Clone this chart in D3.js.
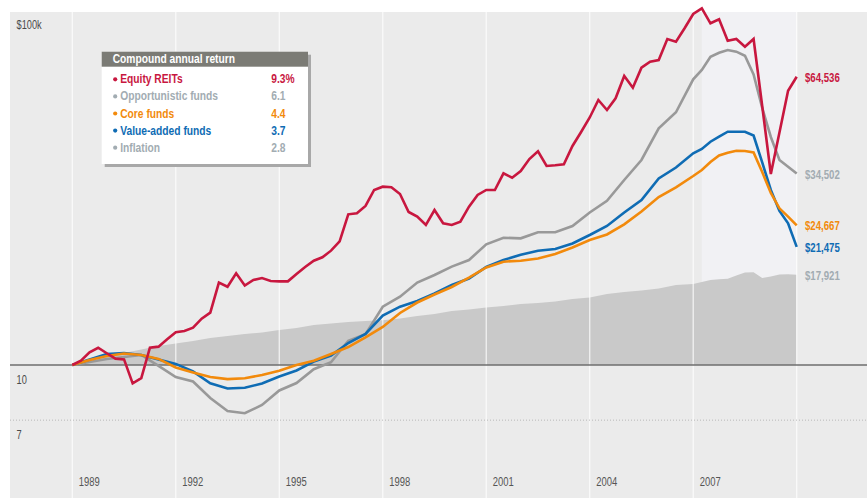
<!DOCTYPE html>
<html><head><meta charset="utf-8">
<script src="https://cdn.jsdelivr.net/npm/d3@7"></script>
<style>
body{margin:0;background:#fff;}
svg{display:block;font-family:"Liberation Sans",Arial,sans-serif;}
</style></head><body>
<svg id="c" width="867" height="498"></svg>
<script>
// ---- data (value of $10k invested, in $ thousands) ----
const quarterDates = d3.range(85).map(k => 1989 + k / 4);   // 1989Q1 .. 2009Q4 end
// half-yearly through 2007, quarterly afterwards
const smoothDates = [...d3.range(37).map(k => 1989 + k / 2), ...d3.range(1, 13).map(k => 2007 + k / 4)];

const equityREITs = [10.00,10.28,10.86,11.18,10.79,10.42,10.37,8.88,9.19,11.18,
  11.26,11.81,12.36,12.46,12.73,13.49,14.03,17.03,16.59,18.10,
  16.72,17.33,17.55,17.22,17.18,17.18,18.02,18.85,19.63,20.07,
  20.95,22.26,26.50,26.68,27.97,31.02,31.69,31.56,30.22,26.90,
  26.10,24.73,27.25,25.01,24.73,25.27,27.84,30.03,31.02,31.02,
  34.55,33.59,35.07,37.90,39.84,36.23,36.39,36.63,41.23,45.13,
  49.57,55.51,52.03,56.13,64.84,60.11,68.40,71.11,71.90,82.37,
  80.94,88.27,96.82,100.45,91.17,93.56,81.46,82.37,78.37,82.37,
  53.40,34.40,44.96,58.95,64.536];

const opportunistic = [10.00,10.20,10.40,10.53,10.67,9.94,9.25,8.99,8.08,7.43,
  7.32,7.72,8.48,8.90,9.73,10.18,11.70,12.20,14.58,15.56,
  17.05,17.90,18.89,19.72,21.83,22.78,22.69,23.59,23.59,24.57,
  26.82,28.94,33.09,37.66,46.23,51.27,63.47,
  67.40,73.45,75.38,76.70,75.87,73.93,65.47,52.72,43.70,37.66,36.06,34.502];

const coreFunds = [10.00,10.33,10.60,10.77,10.67,10.40,9.84,9.53,9.25,9.13,
  9.18,9.37,9.63,10.00,10.28,10.74,11.23,11.95,12.79,14.00,
  14.98,15.78,16.56,17.59,18.79,19.51,19.63,19.91,20.50,21.38,
  22.45,23.26,24.84,26.99,29.64,31.56,33.96,
  35.30,37.17,38.77,39.48,39.99,39.92,39.53,34.85,30.42,27.55,26.10,24.667];

const valueAdded = [10.00,10.36,10.74,10.81,10.67,10.36,10.07,9.59,8.88,8.59,
  8.63,8.87,9.28,9.65,10.22,10.63,11.53,12.22,13.77,14.58,
  15.13,15.88,16.78,17.50,18.85,19.72,20.41,20.93,21.18,21.94,
  23.18,24.57,26.82,29.07,33.41,35.87,39.33,
  40.44,42.39,43.78,45.22,45.22,45.22,44.12,37.06,31.02,27.08,25.01,21.475];

const inflation = [10.00,10.30,10.57,10.81,11.05,11.31,11.49,11.68,11.91,12.06,
  12.22,12.34,12.54,12.70,12.95,13.08,13.21,13.29,13.35,13.51,
  13.73,13.91,14.18,14.32,14.51,14.65,14.84,14.93,15.08,15.33,
  15.47,15.83,16.04,16.19,16.40,16.77,16.89,
  17.11,17.33,17.41,17.48,17.84,18.19,18.21,17.55,17.73,17.96,17.98,17.921];

const seriesNames = ["Equity REITs","Opportunistic funds","Core funds","Value-added funds","Inflation"];
const seriesRates = ["9.3%","6.1","4.4","3.7","2.8"];
const endLabels = ["$64,536","$34,502","$24,667","$21,475","$17,921"];
const yearTicks = [1989,1992,1995,1998,2001,2004,2007];
const gridYears = [1989,1992,1995,1998,2001,2004,2007,2010];
const highlightSpan = [2007.25, 2010];
const yLabels = [{v:100,t:"$100k"},{v:10,t:"10"},{v:7,t:"7"}];

// ---- styles ----
const lineColors = ["#c8173f","#999999","#f28a0c","#0f6cb4"];
const textColors = ["#c8173f","#a2acb2","#f28a0c","#0f6cb4","#a2acb2"];

const W = 867, H = 498;
const svg = d3.select("#c");
const x = d3.scaleLinear().domain([1989, 2010]).range([72.3, 796.7]);
const y = d3.scaleLog().domain([10, 100]).range([365, 9]);

function cond(sel, fx, fy, sx){
  return sel.attr("transform",(d,i)=>`translate(${fx(d,i)},${fy(d,i)}) scale(${sx},1)`);
}

svg.append("rect").attr("x",10).attr("y",12).attr("width",W-10).attr("height",H-12).attr("fill","#ebebeb");
svg.append("rect").attr("x",x(highlightSpan[0])).attr("y",12)
  .attr("width",x(highlightSpan[1])-x(highlightSpan[0])).attr("height",y(10)-12).attr("fill","#f1f1f4");

// inflation area
const area = d3.area().x((d,i)=>x(smoothDates[i])).y0(y(10)).y1(d=>y(d));
svg.append("path").datum(inflation).attr("d",area).attr("fill","#c9c9c9");

// vertical grid
svg.selectAll("line.grid").data(gridYears).join("line").attr("class","grid")
  .attr("x1",d=>x(d)).attr("x2",d=>x(d)).attr("y1",12).attr("y2",H)
  .attr("stroke","#fff").attr("stroke-width",1.3).attr("stroke-opacity",0.75);

// baseline & dotted 7 line
svg.append("line").attr("x1",10).attr("x2",W).attr("y1",y(10)).attr("y2",y(10))
  .attr("stroke","#6e6e6e").attr("stroke-width",1.6);
svg.append("line").attr("x1",10).attr("x2",W).attr("y1",y(7)).attr("y2",y(7))
  .attr("stroke","#b8b8b8").attr("stroke-width",1).attr("stroke-dasharray","1,2");

// y labels
cond(svg.selectAll("text.ylab").data(yLabels).join("text").attr("class","ylab"),
  ()=>16.5, d=> d.v===100 ? 29.3 : y(d.v)+18.5, 0.74)
  .attr("font-size",12.5).attr("fill","#4a4a4a").text(d=>d.t);

// year labels
cond(svg.selectAll("text.year").data(yearTicks).join("text").attr("class","year"),
  d=>x(d)+6.5, ()=>485.8, 0.7)
  .attr("font-size",13.5).attr("fill","#555").text(d=>d);

// lines
const qLine = d3.line().x((d,i)=>x(quarterDates[i])).y(d=>y(d));
const sLine = d3.line().x((d,i)=>x(smoothDates[i])).y(d=>y(d));
const drawOrder = [[opportunistic,1,sLine],[valueAdded,3,sLine],[coreFunds,2,sLine],[equityREITs,0,qLine]];
drawOrder.forEach(([data,ci,gen])=>{
  svg.append("path").datum(data).attr("d",gen).attr("fill","none")
    .attr("stroke",lineColors[ci]).attr("stroke-width",2.6)
    .attr("stroke-linejoin","miter").attr("stroke-miterlimit",3);
});

// end labels
const lastVals = [equityREITs, opportunistic, coreFunds, valueAdded, inflation].map(a=>a[a.length-1]);
cond(svg.selectAll("text.end").data(lastVals).join("text").attr("class","end"),
  ()=>805, d=>y(d)+5, 0.79)
  .attr("font-size",12.2).attr("font-weight","bold")
  .attr("fill",(d,i)=>textColors[i]).text((d,i)=>endLabels[i]);

// legend
const lg = svg.append("g").attr("transform","translate(101.7,51.7)");
const lw = 206.3, lh = 112.3;
lg.append("rect").attr("x",3).attr("y",3).attr("width",lw).attr("height",lh).attr("fill","#a8a8a8");
lg.append("rect").attr("width",lw).attr("height",lh).attr("fill","#fff");
lg.append("rect").attr("width",lw).attr("height",15).attr("fill","#7b7b75");
cond(lg.append("text"), ()=>11, ()=>11.3, 0.82).attr("font-size",12.5).attr("font-weight","bold")
  .attr("fill","#fff").text("Compound annual return");
const rows = lg.selectAll("g.row").data(seriesNames).join("g").attr("class","row")
  .attr("transform",(d,i)=>`translate(0,${31.6+i*17.1})`);
rows.append("circle").attr("cx",13.5).attr("cy",-4).attr("r",2.1).attr("fill",(d,i)=>textColors[i]);
cond(rows.append("text"), ()=>18.5, ()=>0, 0.82).attr("font-size",12.5).attr("font-weight","bold")
  .attr("fill",(d,i)=>textColors[i]).text(d=>d);
cond(rows.append("text"), ()=>169.5, ()=>0, 0.82).attr("font-size",12.5).attr("font-weight","bold")
  .attr("fill",(d,i)=>textColors[i]).text((d,i)=>seriesRates[i]);
</script>
</body></html>
